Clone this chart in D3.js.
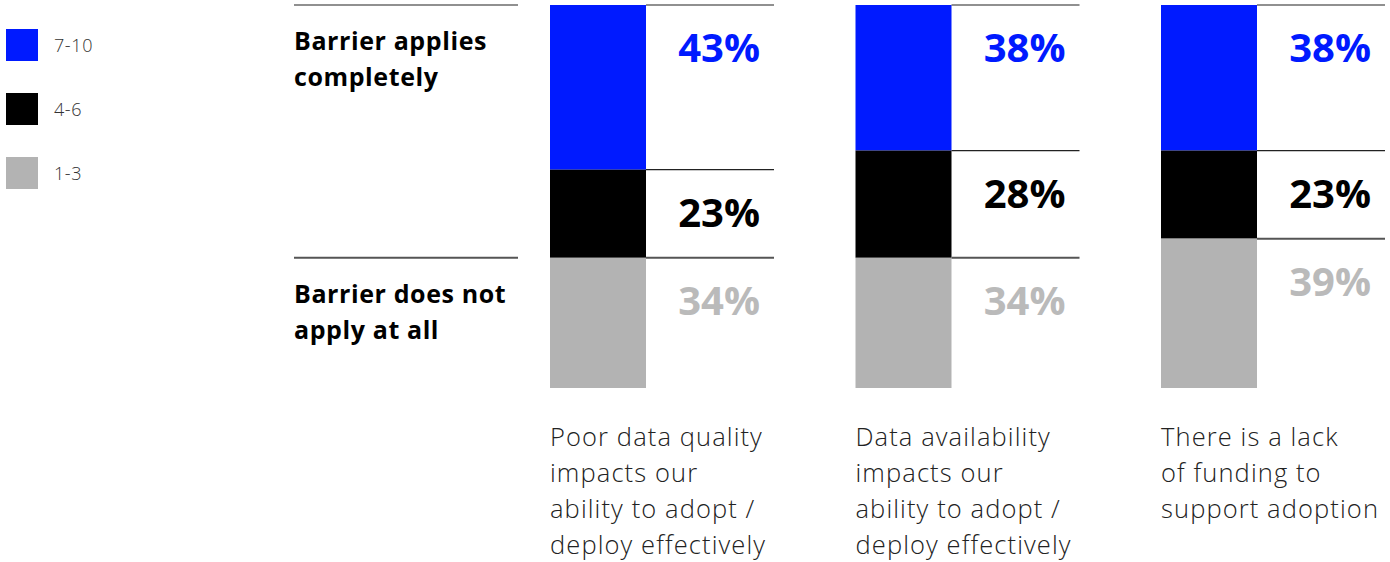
<!DOCTYPE html>
<html>
<head>
<meta charset="utf-8">
<script src="https://cdn.jsdelivr.net/npm/d3@7"></script>
<style>
  body { margin: 0; background: #fff; }
  svg { display: block; font-family: "Open Sans", Lato, sans-serif; }
</style>
</head>
<body>
<svg id="chart" width="1390" height="562"></svg>
<script>
// Chart data
const barriers = [
  ["Poor data quality", "impacts our", "ability to adopt /", "deploy effectively"],
  ["Data availability", "impacts our", "ability to adopt /", "deploy effectively"],
  ["There is a lack", "of funding to", "support adoption"]
];
const high = [43, 38, 38];   // 7-10
const mid = [23, 28, 23];    // 4-6
const low = [34, 34, 39];    // 1-3
const legendLabels = ["7-10", "4-6", "1-3"];
const sideLabels = [["Barrier applies", "completely"], ["Barrier does not", "apply at all"]];

const colors = { high: "#001aff", mid: "#000000", low: "#b3b3b3" };
const labelColors = { high: "#001aff", mid: "#000000", low: "#bababa" };

const svg = d3.select("#chart");

const rows = barriers.map((b, i) => ({ idx: i, high: high[i], mid: mid[i], low: low[i] }));
const keys = ["high", "mid", "low"];
const stacked = d3.stack().keys(keys)(rows);

const x = d3.scaleBand()
  .domain(d3.range(barriers.length))
  .range([550, 1466.5])
  .paddingInner(0)
  .paddingOuter(0);
const barW = 96;
const lineW = 224;

const y = d3.scaleLinear().domain([0, 100]).range([5, 388]);

// Legend
const legend = svg.append("g");
legendLabels.forEach((lab, i) => {
  const g = legend.append("g").attr("transform", `translate(6, ${29 + i * 64})`);
  g.append("rect").attr("width", 32).attr("height", 32).attr("fill", colors[keys[i]]);
  g.append("text").attr("x", 48).attr("y", 23)
    .attr("font-size", 18).attr("font-weight", 300).attr("fill", "#333")
    .attr("letter-spacing", 0.6)
    .text(lab);
});

// Side labels with rule lines
const sideY = [y(0), y(high[0] + mid[0])];
sideLabels.forEach((lines, i) => {
  svg.append("line")
    .attr("x1", 294).attr("x2", 518)
    .attr("y1", sideY[i]).attr("y2", sideY[i])
    .attr("stroke", i === 0 ? "#222" : "#555").attr("stroke-width", i === 0 ? 1.2 : 2);
  svg.append("text")
    .attr("x", 294).attr("y", sideY[i] + 45)
    .attr("font-size", 25).attr("font-weight", 700).attr("fill", "#000")
    .attr("letter-spacing", 0.6)
    .selectAll("tspan").data(lines).join("tspan")
    .attr("x", 294).attr("dy", (d, j) => j === 0 ? 0 : 36)
    .text(d => d);
});

// Bars
stacked.forEach(layer => {
  const key = layer.key;
  const g = svg.append("g");
  g.selectAll("rect").data(layer).join("rect")
    .attr("x", (d, i) => x(i))
    .attr("y", d => y(d[0]))
    .attr("width", barW)
    .attr("height", d => y(d[1]) - y(d[0]))
    .attr("fill", colors[key]);

  g.selectAll("line").data(layer).join("line")
    .attr("x1", (d, i) => x(i) + barW)
    .attr("x2", (d, i) => x(i) + lineW)
    .attr("y1", d => y(d[0]))
    .attr("y2", d => y(d[0]))
    .attr("stroke", key === "low" ? "#555" : "#222")
    .attr("stroke-width", key === "low" ? 2 : 1.2);

  g.selectAll("text").data(layer).join("text")
    .attr("x", (d, i) => x(i) + 210)
    .attr("y", d => y(d[0]) + 57)
    .attr("text-anchor", "end")
    .attr("font-size", 40).attr("font-weight", 700)
    .attr("fill", labelColors[key])
    .text(d => `${d.data[key]}%`);
});

// Category labels
barriers.forEach((lines, i) => {
  svg.append("text")
    .attr("x", x(i)).attr("y", 446)
    .attr("font-size", 25.5).attr("font-weight", 300).attr("fill", "#222")
    .attr("letter-spacing", 1.1)
    .selectAll("tspan").data(lines).join("tspan")
    .attr("x", x(i)).attr("dy", (d, j) => j === 0 ? 0 : 36)
    .text(d => d);
});
</script>
</body>
</html>
